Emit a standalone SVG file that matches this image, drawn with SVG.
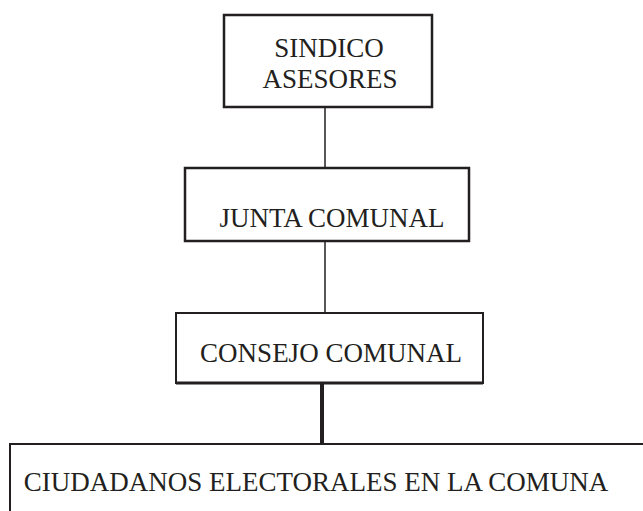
<svg xmlns="http://www.w3.org/2000/svg" width="643" height="511" viewBox="0 0 643 511">
<style>
.box{fill:#fff;stroke:#231f20}
.t{font-family:"Liberation Serif","Times New Roman",serif;font-size:27px;fill:#231f20;text-anchor:middle}
.c{stroke:#231f20;fill:none}
</style>
<rect width="643" height="511" fill="#fff"/>
<g id="connectors">
<line class="c" x1="325" y1="107" x2="325" y2="168" stroke-width="1.5"/>
<line class="c" x1="325" y1="241" x2="325" y2="313" stroke-width="1.5"/>
<line class="c" x1="322" y1="383" x2="322" y2="444" stroke-width="4"/>
</g>
<g id="sindico">
<rect class="box" x="224" y="15" width="208" height="92" stroke-width="2.5"/>
<text class="t" x="329" y="57">SINDICO</text>
<text class="t" x="330" y="88">ASESORES</text>
</g>
<g id="junta">
<rect class="box" x="185" y="168" width="284" height="73" stroke-width="2.5"/>
<text class="t" x="332" y="227">JUNTA COMUNAL</text>
</g>
<g id="consejo">
<rect class="box" x="176" y="313" width="307" height="70" stroke-width="2"/>
<line class="c" x1="176" y1="383" x2="483" y2="383" stroke-width="3"/>
<text class="t" x="331" y="362">CONSEJO COMUNAL</text>
</g>
<g id="ciudadanos">
<rect class="box" x="10" y="444" width="640" height="80" stroke-width="2"/>
<text class="t" x="316" y="491">CIUDADANOS ELECTORALES EN LA COMUNA</text>
</g>
</svg>
